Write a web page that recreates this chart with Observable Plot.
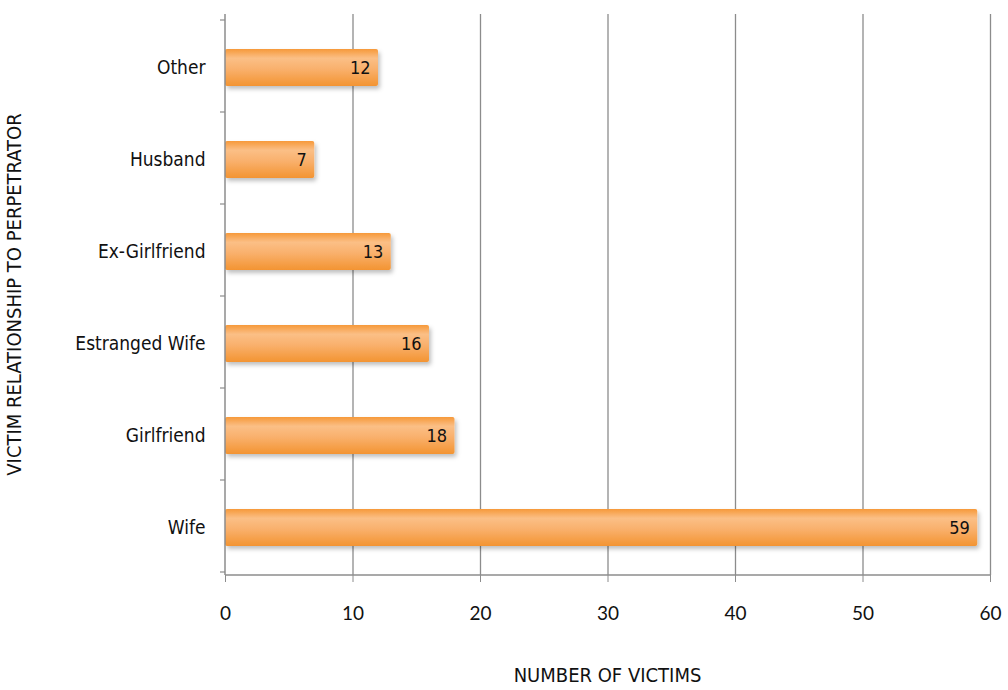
<!DOCTYPE html>
<html><head><meta charset="utf-8">
<script src="https://cdn.jsdelivr.net/npm/d3@7"></script>
<script src="https://cdn.jsdelivr.net/npm/@observablehq/plot@0.6"></script>
<style>
html,body{margin:0;padding:0;background:#fff;}
#chart svg{display:block;}
</style>
</head><body><div id="chart"></div>
<script>
const categories = ["Other","Husband","Ex-Girlfriend","Estranged Wife","Girlfriend","Wife"];
const values = [12,7,13,16,18,59];
const xTicks = [0,10,20,30,40,50,60];
const xTitle = "NUMBER OF VICTIMS";
const yTitle = "VICTIM RELATIONSHIP TO PERPETRATOR";

const data = categories.map((c,i)=>({cat:c, v:values[i]}));
const condensed = "'Liberation Sans Narrow','DejaVu Sans Condensed','Roboto Condensed',sans-serif";

const W = 1008, H = 690;
const plot = Plot.plot({
  width: W, height: H,
  marginLeft: 225, marginRight: 18, marginTop: 20, marginBottom: 115,
  style: {background: "#fff", overflow: "visible"},
  x: {domain: [0,60], ticks: xTicks},
  y: {domain: categories, paddingInner: 0.6, paddingOuter: 0.3},
  marks: [
    Plot.gridX(xTicks.filter(d=>d>0), {stroke: "#8c8c8c", strokeOpacity: 1, strokeWidth: 1.3}),
    Plot.barX(data, {x: "v", y: "cat", fill: "url(#barGrad)", rx: 2}),
    Plot.text(data, {x: "v", y: "cat", text: d=>String(d.v), textAnchor: "end", dx: -8, fontSize: 18, fill: "#111", fontFamily: condensed}),
    Plot.axisX({ticks: xTicks, tickSize: 7, stroke: "#8c8c8c", tickPadding: 24, fontSize: 19, fontFamily: "Lato, 'Open Sans', sans-serif", fill: "#111", label: null}),
    Plot.axisY({tickSize: 0, tickPadding: 20, fontSize: 19, fontFamily: condensed, fill: "#111", label: null})
  ]
});

const svg = d3.select(plot);
const defs = svg.insert("defs", ":first-child");
const g = defs.append("linearGradient").attr("id","barGrad").attr("x1",0).attr("y1",0).attr("x2",0).attr("y2",1);
[[0,"#f6993a"],[0.25,"#fbbf86"],[0.55,"#f9b06c"],[1,"#f39432"]].forEach(([o,c])=>g.append("stop").attr("offset",o).attr("stop-color",c));
const f = defs.append("filter").attr("id","shadow").attr("x","-5%").attr("y","-20%").attr("width","115%").attr("height","160%");
f.append("feDropShadow").attr("dx",2).attr("dy",3).attr("stdDeviation",2).attr("flood-color","#000").attr("flood-opacity",0.25);
svg.selectAll("[aria-label='bar'] rect").attr("filter","url(#shadow)");

const xs = plot.scale("x"), ys = plot.scale("y");
const x0 = xs.range[0], x1 = xs.range[1];
const yTop = 14, yBot = H - 115;
svg.selectAll("[aria-label='x-grid'] line").attr("y1", yTop);
svg.append("line").attr("x1",x0).attr("x2",x0).attr("y1",yTop).attr("y2",yBot).attr("stroke","#8c8c8c").attr("stroke-width",1.5);
svg.append("line").attr("x1",x0).attr("x2",x1).attr("y1",yBot).attr("y2",yBot).attr("stroke","#8c8c8c").attr("stroke-width",1.5);
const step = ys.step;
const bandStart = ys.range[0];
for (let i = 0; i <= categories.length; i++) {
  const yy = bandStart + i*step;
  svg.append("line").attr("x1",x0-5).attr("x2",x0).attr("y1",yy).attr("y2",yy).attr("stroke","#8c8c8c").attr("stroke-width",1.2);
}
svg.append("text").attr("x",(x0+x1)/2).attr("y",676).attr("text-anchor","middle").attr("dominant-baseline","middle")
  .attr("font-family",condensed).attr("font-size",20).attr("fill","#111").text(xTitle);
svg.append("text").attr("transform",`translate(15,${(yTop+yBot)/2}) rotate(-90)`).attr("text-anchor","middle").attr("dominant-baseline","middle")
  .attr("font-family",condensed).attr("font-size",20).attr("fill","#111").text(yTitle);

document.getElementById("chart").appendChild(plot);
</script>
</body></html>
